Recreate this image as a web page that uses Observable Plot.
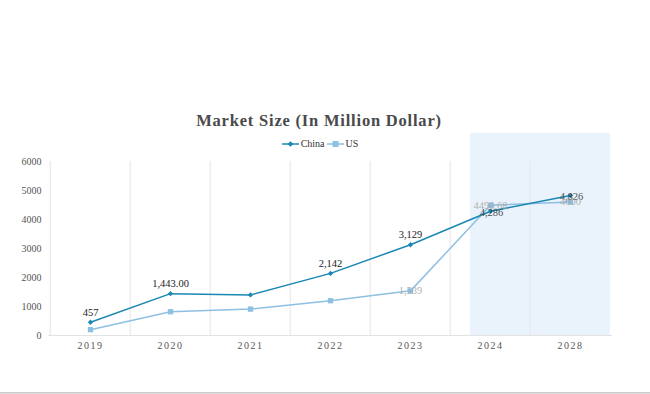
<!DOCTYPE html>
<html><head><meta charset="utf-8">
<script src="https://cdn.jsdelivr.net/npm/d3@7"></script>
<script src="https://cdn.jsdelivr.net/npm/@observablehq/plot@0.6"></script>
<style>
html,body{margin:0;padding:0;background:#fff;}
#wrap{position:relative;width:650px;height:394px;overflow:hidden;font-family:"Liberation Serif","DejaVu Serif",serif;}
#title{position:absolute;left:0;width:638px;top:111px;text-align:center;font-size:16.5px;font-weight:bold;color:#4a4a4a;letter-spacing:0.8px;}
#legend{position:absolute;left:0;width:640px;top:138px;text-align:center;font-size:10px;color:#333;}
#legend span.it{display:inline-flex;align-items:center;margin:0 1px;}
#chart{position:absolute;left:0;top:133px;}
#chart svg, #chart svg text{font-family:"Liberation Serif",serif !important;}
#bottom{position:absolute;left:0;top:392px;width:650px;height:2px;background:#ddd;border-top:1px solid #ccc;}
</style></head>
<body><div id="wrap">
<div id="title">Market Size (In Million Dollar)</div>
<div id="legend"></div>
<div id="chart"></div>
<div id="bottom"></div>
</div>
<script>
const years = ["2019","2020","2021","2022","2023","2024","2028"];
const china = [457, 1443, 1400, 2142, 3129, 4286, 4826];
const us = [200, 820, 910, 1200, 1539, 4490.68, 4600];
const chinaLabels = ["457","1,443.00","","2,142","3,129","4,286","4,826"];
const usLabels = ["","","","","1,539","4490.68","4600"];
const yTicks = [0,1000,2000,3000,4000,5000,6000];
const forecastYears = ["2024","2028"];

const chinaColor = "#1b87b3";
const usColor = "#8dc0e3";

const rows = years.map((y,i)=>({year:y, china:china[i], us:us[i], cl:chinaLabels[i], ul:usLabels[i], i}));

const W = 650, H = 230, ML = 48, MR = 38, MT = 28, MB = 28;
const halfBand = (W - ML - MR) / years.length / 2;

const plot = Plot.plot({
  width: W, height: H,
  marginLeft: ML, marginRight: MR, marginTop: MT, marginBottom: MB,
  style: {fontFamily: "Liberation Serif, serif", fontSize: "10px", color: "#555", background: "transparent"},
  x: {type: "band", domain: years, padding: 0, label: null, tickSize: 0, tickPadding: 6},
  y: {domain: [0, 6000], ticks: yTicks, label: null, tickSize: 0, tickPadding: 7, tickFormat: d => String(d)},
  marks: [
    Plot.barY([forecastYears[0]], {x: d=>d, y1: 0, y2: 6000, fill: "#eaf3fb", insetLeft: 20, insetRight: 0, insetTop: -28}),
    Plot.barY([forecastYears[1]], {x: d=>d, y1: 0, y2: 6000, fill: "#eaf3fb", insetLeft: 0, insetRight: 0, insetTop: -28}),
    Plot.ruleX(years.slice(1), {x: d=>d, y1: 0, y2: 6000, dx: -halfBand, stroke: "#e6e6e6", strokeWidth: 1}),
    Plot.ruleX([years[0]], {x: d=>d, y1: 0, y2: 6000, dx: -halfBand, stroke: "#e3e3e3", strokeWidth: 1}),
    Plot.ruleY([0], {stroke: "#e3e3e3"}),
    Plot.line(rows, {x: "year", y: "us", stroke: usColor, strokeWidth: 1.5}),
    Plot.dot(rows, {x: "year", y: "us", symbol: "square", r: 3, fill: usColor}),
    Plot.line(rows, {x: "year", y: "china", stroke: chinaColor, strokeWidth: 1.5}),
    Plot.dot(rows, {x: "year", y: "china", symbol: "diamond2", r: 2.4, fill: chinaColor}),
    Plot.text(rows.filter(d => d.i < 5 && d.cl), {x: "year", y: "china", text: "cl", dy: -10, fill: "#222", fontSize: 10.5}),
    Plot.text(rows.filter(d => d.i >= 5 && d.cl), {x: "year", y: "china", text: "cl", dx: 1, dy: 1, fill: "#333", fontSize: 10.5, opacity: 0.85}),
    Plot.text(rows.filter(d => d.ul), {x: "year", y: "us", text: "ul", fill: "#aaa", fontSize: 10.5, opacity: 0.9})
  ]
});
plot.querySelectorAll('[aria-label="x-axis tick label"] text').forEach(t => t.setAttribute("letter-spacing", "1.5"));
document.getElementById("chart").appendChild(plot);

// legend
const leg = document.getElementById("legend");
function item(name, color, shape){
  const s = document.createElement("span"); s.className = "it";
  const svg = d3.create("svg").attr("width", 17).attr("height", 8);
  svg.append("line").attr("x1",0).attr("x2",17).attr("y1",4).attr("y2",4).attr("stroke",color).attr("stroke-width",1.5);
  if (shape === "diamond") svg.append("path").attr("d","M8.5,1.2L11.3,4L8.5,6.8L5.7,4Z").attr("fill",color);
  else svg.append("rect").attr("x",5.5).attr("y",1).attr("width",6).attr("height",6).attr("fill",color);
  s.appendChild(svg.node());
  const t = document.createElement("span"); t.textContent = name; t.style.marginLeft = "2px";
  s.appendChild(t);
  return s;
}
leg.appendChild(item("China", chinaColor, "diamond"));
leg.appendChild(item("US", usColor, "square"));
</script>
</body></html>
